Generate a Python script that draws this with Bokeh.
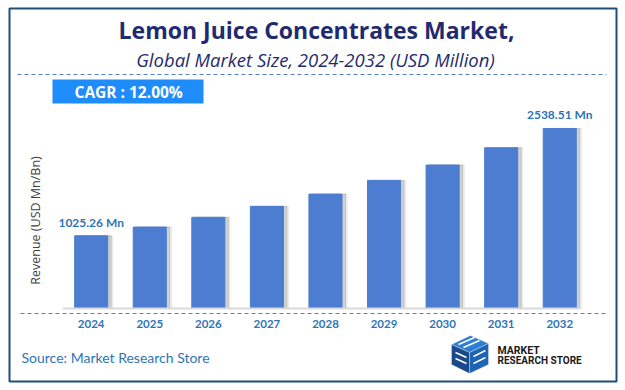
from bokeh.plotting import figure
from bokeh.models import (Range1d, Label, BoxAnnotation, PolyAnnotation,
                          ColumnDataSource, Arrow, FixedTicker)
from bokeh.transform import dodge
from bokeh.core.properties import value
from bokeh.embed import file_html
from bokeh.resources import INLINE

# ---- data ----
years = ["2024", "2025", "2026", "2027", "2028", "2029", "2030", "2031", "2032"]
revenue = [1025.26, 1148.3, 1286.1, 1440.4, 1613.3, 1806.9, 2023.7, 2266.5, 2538.51]
label_idx = [0, 8]
label_texts = ["1025.26 Mn", "2538.51 Mn"]

title_text = "Lemon Juice Concentrates Market,"
subtitle_text = "Global Market Size, 2024-2032 (USD Million)"
cagr_text = "CAGR :  12.00%"
ylabel_text = "Revenue (USD Mn/Bn)"
source_text = "Source: Market Research Store"

# ---- colours / fonts ----
NAVY = "#1F2B6E"
BAR = "#4C7DD0"
LBL = "#2E75B6"
DASH = "#4472C4"
CAGR_BG = "#1E8CFA"
BORDER = "#1F4E79"

W, H = 625, 390
xpos = list(range(len(years)))

p = figure(width=W, height=H, output_backend="svg", toolbar_location=None,
           x_range=Range1d(-1.395, 8.969), y_range=Range1d(-1029.5, 4230.8),
           min_border_left=9, min_border_right=9,
           min_border_top=8, min_border_bottom=9,
           outline_line_color=BORDER, outline_line_width=2,
           background_fill_color="white", border_fill_color="white")
p.grid.visible = False
p.yaxis.visible = False

src = ColumnDataSource(dict(x=xpos, year=years, revenue=revenue))

# shadows
p.vbar(x=dodge("x", 0.09), top="revenue", width=0.565,
       source=src, color="#909090", alpha=0.12)
p.vbar(x=dodge("x", 0.06), top="revenue", width=0.565,
       source=src, color="#707070", alpha=0.25)
# bars
p.vbar(x="x", top="revenue", width=0.565, source=src, color=BAR)

# value labels
p.text(x=[xpos[i] for i in label_idx], y=[revenue[i] for i in label_idx],
       text=label_texts, y_offset=-6,
       text_align="center", text_baseline="bottom",
       text_font=value("Lato"), text_font_style="bold",
       text_font_size="12px", text_color=LBL)

# x axis fixed at zero
ax = p.xaxis[0]
ax.fixed_location = 0
ax.ticker = FixedTicker(ticks=xpos)
ax.major_label_overrides = {i: y for i, y in zip(xpos, years)}
ax.bounds = (-0.49, 8.36)
ax.axis_line_color = "#D9D9D9"
ax.axis_line_width = 2
ax.major_tick_line_color = None
ax.minor_tick_line_color = None
ax.major_label_standoff = 6
ax.major_label_text_font = "Lato"
ax.major_label_text_font_style = "bold"
ax.major_label_text_font_size = "11.5px"
ax.major_label_text_color = LBL

# page -> label screen coords (relative to the frame: left 9, bottom 381)
def sx(X):
    return X - 9

def sy(Y):
    return 381 - Y

def lab(X, Y, text, **kw):
    d = dict(x=sx(X), y=sy(Y), x_units="screen", y_units="screen", text=text,
             text_baseline="middle")
    d.update(kw)
    p.add_layout(Label(**d))

lab(316, 29.5, title_text, text_align="center", text_font_size="23px",
    text_font="Open Sans", text_font_style="bold", text_color=NAVY)
lab(315, 59, subtitle_text, text_align="center", text_font_size="18.5px",
    text_font="Open Sans", text_font_style="italic", text_color=NAVY)

# dashed separator lines
for (x1, x2, yy) in [(17, 606, 74), (20, 607, 313)]:
    p.add_layout(Arrow(end=None, start=None, x_start=sx(x1), x_end=sx(x2),
                       y_start=sy(yy), y_end=sy(yy), start_units="screen",
                       end_units="screen", line_color=DASH, line_width=1.2,
                       line_dash="4 3", line_alpha=0.9))

# CAGR box
p.add_layout(BoxAnnotation(left=sx(52), right=sx(203), top=sy(79), bottom=sy(103),
                           left_units="screen", right_units="screen",
                           top_units="screen", bottom_units="screen",
                           fill_color=CAGR_BG, fill_alpha=1, line_color=None))
lab(74, 91.5, cagr_text, text_font_size="15.5px", text_font="Open Sans",
    text_font_style="bold", text_color="white")

# y axis label
lab(35, 220, ylabel_text, angle=1.5708, text_align="center",
    text_font_size="12.5px", text_font="Open Sans", text_color="#404040")

# source
lab(21, 357, source_text, text_font_size="14px", text_font="Lato",
    text_color=LBL)

# logo icon (simple cube)
faces = [
    ([451, 470, 488, 469], [344, 335, 343, 352], "#2F7FD0"),
    ([451, 469, 469, 451], [344, 352, 373, 364], "#1A4A8A"),
    ([469, 488, 488, 469], [352, 343, 364, 373], "#1E64B4"),
]
for xs, ys, c in faces:
    p.add_layout(PolyAnnotation(xs=[sx(v) for v in xs], ys=[sy(v) for v in ys],
                                xs_units="screen", ys_units="screen",
                                fill_color=c, fill_alpha=1, line_color="white",
                                line_width=1))
for (x1, y1, x2, y2) in [(458, 344, 474, 337), (463, 347, 479, 340),
                         (455, 352, 466, 357), (455, 358, 466, 363),
                         (473, 356, 485, 350), (473, 363, 485, 357)]:
    p.add_layout(Arrow(end=None, start=None, x_start=sx(x1), x_end=sx(x2),
                       y_start=sy(y1), y_end=sy(y2), start_units="screen",
                       end_units="screen", line_color="white", line_width=1.5))
lab(497, 350, "MARKET", text_font_size="10.5px", text_font="Roboto",
    text_font_style="bold", text_color="#1A1A1A")
lab(497, 360, "RESEARCH STORE", text_font_size="10px", text_font="Roboto",
    text_font_style="bold", text_color="#1A1A1A")

open("out.html", "w").write(file_html(p, INLINE))
